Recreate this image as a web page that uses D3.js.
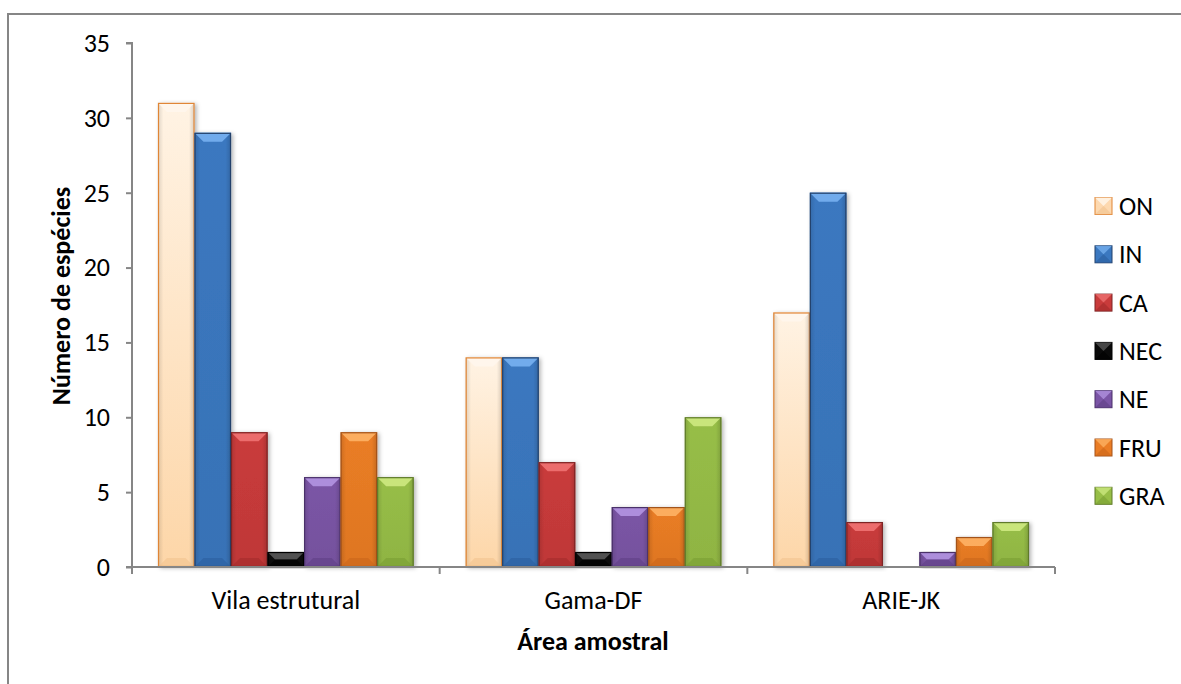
<!DOCTYPE html>
<html><head><meta charset="utf-8">
<script src="https://cdn.jsdelivr.net/npm/d3@7"></script>
<style>body{margin:0;background:#fff}svg{display:block}</style>
</head><body>
<svg id="c" width="1181" height="684"></svg>
<script>
const categories = ["Vila estrutural", "Gama-DF", "ARIE-JK"];
const seriesNames = ["ON", "IN", "CA", "NEC", "NE", "FRU", "GRA"];
const ON  = [31, 14, 17];
const IN  = [29, 14, 25];
const CA  = [9, 7, 3];
const NEC = [1, 1, 0];
const NE  = [6, 4, 1];
const FRU = [9, 4, 2];
const GRA = [6, 10, 3];
const yTicks = [0, 5, 10, 15, 20, 25, 30, 35];
const seriesValues = [ON, IN, CA, NEC, NE, FRU, GRA];

const colors = {
  ON:  {base:"#FDDDB8", light:"#FFF6EC", dark:"#F2C38F", stroke:"#E08535"},
  IN:  {base:"#3B78C0", light:"#74AEEE", dark:"#2C5F9E", stroke:"#23416B"},
  CA:  {base:"#C93B3B", light:"#EE7070", dark:"#A42C2C", stroke:"#7E2424"},
  NEC: {base:"#0A0A0A", light:"#555555", dark:"#000000", stroke:"#000000"},
  NE:  {base:"#7B55A6", light:"#B091DE", dark:"#5F3F86", stroke:"#4A3169"},
  FRU: {base:"#EA7D25", light:"#FDB062", dark:"#C9651B", stroke:"#A3531A"},
  GRA: {base:"#97BE47", light:"#CBE77E", dark:"#7A9E33", stroke:"#5F7A2B"}
};

const svg = d3.select("#c");
const font = "Carlito, Lato, 'Open Sans', sans-serif";
const fs = 26;

// outer frame
svg.append("rect").attr("x",8).attr("y",14).attr("width",1190).attr("height",700)
  .attr("fill","none").attr("stroke","#868686").attr("stroke-width",2);

const x0 = d3.scaleBand().domain(categories).range([132,1055]).paddingInner(0).paddingOuter(0);
const groupPad = 26;
const x1 = d3.scaleBand().domain(seriesNames).range([groupPad, x0.bandwidth()-groupPad]).padding(0);
const y = d3.scaleLinear().domain([0,35]).range([567,43]);

const defs = svg.append("defs");
seriesNames.forEach(s=>{
  const c = colors[s];
  const g = defs.append("linearGradient").attr("id","g_"+s).attr("x1","0").attr("x2","0").attr("y1","0").attr("y2","1");
  g.append("stop").attr("offset","0%").attr("stop-color", s==="ON" ? "#FFF3E4" : c.base);
  g.append("stop").attr("offset","100%").attr("stop-color", s==="ON" ? "#FDD6A8" : d3.color(c.base).darker(0.15));
  const h = defs.append("linearGradient").attr("id","h_"+s).attr("x1","0").attr("x2","1").attr("y1","0").attr("y2","0");
  h.append("stop").attr("offset","0%").attr("stop-color","#000").attr("stop-opacity",0.12);
  h.append("stop").attr("offset","15%").attr("stop-color","#000").attr("stop-opacity",0);
  h.append("stop").attr("offset","85%").attr("stop-color","#000").attr("stop-opacity",0);
  h.append("stop").attr("offset","100%").attr("stop-color","#000").attr("stop-opacity",0.15);
});
const f = defs.append("filter").attr("id","sh").attr("x","-20%").attr("y","-5%").attr("width","150%").attr("height","115%");
f.append("feDropShadow").attr("dx",2).attr("dy",1).attr("stdDeviation",2).attr("flood-color","#000").attr("flood-opacity",0.3);

// y axis
const yAxis = d3.axisLeft(y).tickValues(yTicks).tickSize(6).tickPadding(16);
const ga = svg.append("g").attr("transform","translate(132,0)").call(yAxis);
ga.select(".domain").attr("stroke","#868686").attr("stroke-width",2).attr("d","M-6,43H0V567H-6");
ga.selectAll(".tick line").attr("stroke","#868686").attr("stroke-width",2);
ga.selectAll(".tick text").attr("font-family",font).attr("font-size",fs).attr("fill","#000");

// bars
const bars = svg.append("g");
categories.forEach((cat,i)=>{
  seriesNames.forEach((s,j)=>{
    const v = seriesValues[j][i];
    if (v <= 0) return;
    const c = colors[s];
    const bx = x0(cat) + x1(s), bw = x1.bandwidth();
    const by = y(v), bh = y(0) - y(v);
    const g = bars.append("g");
    g.append("rect").attr("x",bx).attr("y",by).attr("width",bw).attr("height",bh)
      .attr("fill","url(#g_"+s+")").attr("filter","url(#sh)");
    g.append("rect").attr("x",bx).attr("y",by).attr("width",bw).attr("height",bh)
      .attr("fill","url(#h_"+s+")");
    const b = Math.min(9, bh/2);
    g.append("polygon").attr("points",[[bx,by],[bx+bw,by],[bx+bw-b,by+b],[bx+b,by+b]].join(" "))
      .attr("fill",c.light).attr("opacity",0.95);
    g.append("polygon").attr("points",[[bx,by+bh],[bx+bw,by+bh],[bx+bw-b,by+bh-b],[bx+b,by+bh-b]].join(" "))
      .attr("fill",c.dark).attr("opacity",0.6);
    g.append("rect").attr("x",bx+0.5).attr("y",by+0.5).attr("width",bw-1).attr("height",bh-1)
      .attr("fill","none").attr("stroke",c.stroke).attr("stroke-width",1.2);
  });
});

// x axis
const xAxis = d3.axisBottom(x0).tickSize(0).tickPadding(24);
const gx = svg.append("g").attr("transform","translate(0,567)").call(xAxis);
gx.select(".domain").attr("stroke","#868686").attr("stroke-width",2).attr("d","M132,0H1055");
gx.selectAll(".tick text").attr("font-family",font).attr("font-size",fs).attr("fill","#000");
const xTickPos = categories.map(c=>x0(c)).concat([x0(categories[2])+x0.bandwidth()]);
gx.selectAll(".sep").data(xTickPos).enter().append("line")
  .attr("x1",d=>d).attr("x2",d=>d).attr("y1",0).attr("y2",7)
  .attr("stroke","#868686").attr("stroke-width",2);

// axis titles
svg.append("text").attr("x",593).attr("y",650).attr("text-anchor","middle")
  .attr("font-family",font).attr("font-size",fs).attr("font-weight","bold").text("Área amostral");
svg.append("text").attr("transform","translate(70,296) rotate(-90)").attr("text-anchor","middle")
  .attr("font-family",font).attr("font-size",fs).attr("font-weight","bold").text("Número de espécies");

// legend
const leg = svg.append("g");
seriesNames.forEach((s,i)=>{
  const c = colors[s];
  const ly = 206 + i*48.3;
  const lx = 1095, sz = 17;
  const g = leg.append("g");
  g.append("rect").attr("x",lx).attr("y",ly-sz/2).attr("width",sz).attr("height",sz).attr("fill",s==="ON"?"#FDD9B0":c.base).attr("stroke",c.stroke).attr("stroke-width",1);
  g.append("polygon").attr("points",[[lx,ly-sz/2],[lx+sz,ly-sz/2],[lx+sz/2,ly]].join(" ")).attr("fill",c.light).attr("opacity",0.8);
  g.append("polygon").attr("points",[[lx,ly+sz/2],[lx+sz,ly+sz/2],[lx+sz/2,ly]].join(" ")).attr("fill",c.dark).attr("opacity",0.6);
  g.append("text").attr("x",1119).attr("y",ly).attr("dy","0.35em")
    .attr("font-family",font).attr("font-size",fs).attr("fill","#000").text(s);
});
</script>
</body></html>
